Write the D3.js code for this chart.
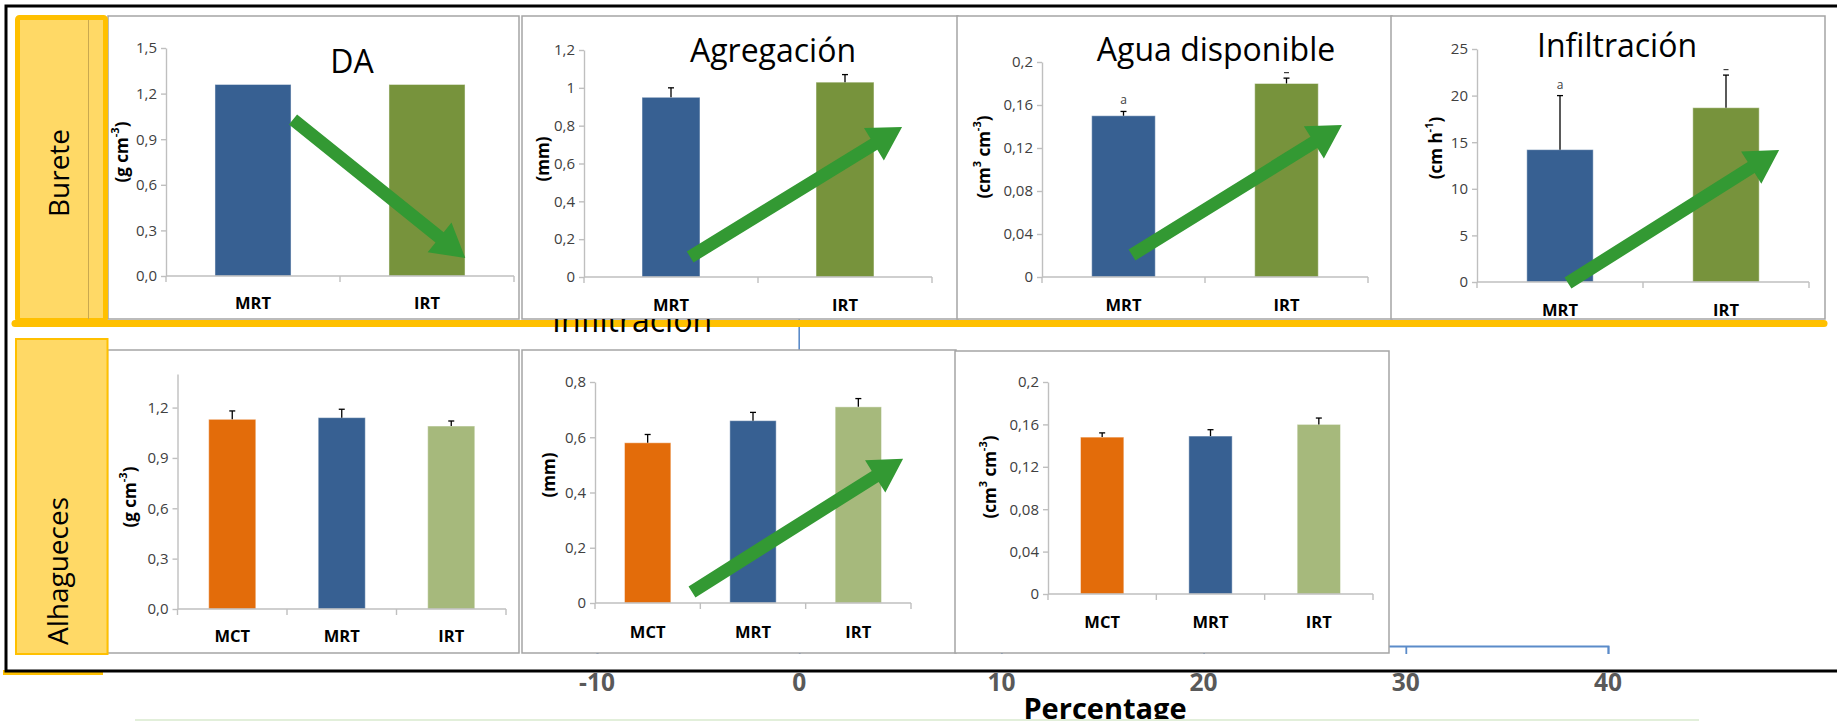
<!DOCTYPE html>
<html>
<head>
<meta charset="utf-8">
<script src="https://cdn.jsdelivr.net/npm/d3@7"></script>
<style>
  html, body { margin: 0; padding: 0; background: #fff; }
  svg { display: block; }
</style>
</head>
<body>
<svg id="chart" width="1837" height="721"></svg>
<script>
// ---------------- data ----------------
const topCategories = ["MRT", "IRT"];
const bottomCategories = ["MCT", "MRT", "IRT"];
const rowLabels = ["Burete", "Alhagueces"];
const panelTitles = ["DA", "Agregación", "Agua disponible", "Infiltración"];

// Burete (top row)
const bureteDA = [1.26, 1.26];
const bureteAgregacion = [0.95, 1.03];
const bureteAgregacionErr = [0.05, 0.04];
const bureteAgua = [0.150, 0.180];
const bureteAguaErr = [0.004, 0.005];
const bureteInfiltracion = [14.2, 18.7];
const bureteInfiltracionErr = [5.8, 3.5];

// Alhagueces (bottom row)
const alhDA = [1.13, 1.14, 1.09];
const alhDAErr = [0.05, 0.05, 0.03];
const alhAgregacion = [0.58, 0.66, 0.71];
const alhAgregacionErr = [0.03, 0.03, 0.03];
const alhAgua = [0.148, 0.149, 0.160];
const alhAguaErr = [0.004, 0.006, 0.006];

// significance letters above the error bars
const bureteAguaLetters = ["a", "-"];
const bureteInfLetters = ["a", "-"];

// axis ticks
const daTopTicks = [0, 0.3, 0.6, 0.9, 1.2, 1.5];
const daBottomTicks = [0, 0.3, 0.6, 0.9, 1.2];
const agrTopTicks = [0, 0.2, 0.4, 0.6, 0.8, 1, 1.2];
const agrBottomTicks = [0, 0.2, 0.4, 0.6, 0.8];
const aguaTicks = [0, 0.04, 0.08, 0.12, 0.16, 0.2];
const infTicks = [0, 5, 10, 15, 20, 25];
const percentTicks = [-10, 0, 10, 20, 30, 40];
const percentLabel = "Percentage";

// unit labels: [text, isSuperscript]
const unitDA = [["(g cm", 0], ["-3", 1], [")", 0]];
const unitMM = [["(mm)", 0]];
const unitAgua = [["(cm", 0], ["3", 1], [" cm", 0], ["-3", 1], [")", 0]];
const unitInf = [["(cm h", 0], ["-1", 1], [")", 0]];

// trend arrows: [fraction along x axis, value on y axis]
const arrowDA = [[0.365, 1.03], [0.86, 0.118]];
const arrowAgrTop = [[0.305, 0.106], [0.914, 0.793]];
const arrowAguaTop = [[0.276, 0.0205], [0.920, 0.1414]];
const arrowInfTop = [[0.274, -0.1], [0.910, 14.16]];
const arrowAgrBottom = [[0.307, 0.04], [0.975, 0.522]];

// ---------------- styles ----------------
const FONT = "'Open Sans', 'DejaVu Sans', sans-serif";
const topColors = ["#376092", "#77933C"];
const bottomColors = ["#E36C0A", "#376092", "#A6B97C"];
const ARROW = "#339933";
const YELLOW = "#FFC000";
const YELLOW_FILL = "#FFD966";
const BLUE_LINE = "#5B8BC9";

const fmtOne = v => v.toFixed(1).replace(".", ",");
const fmtGeneral = v => String(+v.toFixed(3)).replace(".", ",");

const svg = d3.select("#chart");

// ---------------- background percentage axis ----------------
const pct = d3.scaleLinear().domain([-10, 40]).range([597, 1608]);
const pctLayer = svg.append("g");
pctLayer.append("line")
  .attr("x1", pct(0)).attr("x2", pct(0)).attr("y1", 300).attr("y2", 646)
  .attr("stroke", BLUE_LINE).attr("stroke-width", 1.6);
const pctAxis = pctLayer.append("g").attr("transform", "translate(0,646)")
  .call(d3.axisBottom(pct).tickValues(percentTicks).tickSize(8).tickSizeOuter(8).tickPadding(19));
pctAxis.select(".domain").attr("stroke", BLUE_LINE).attr("stroke-width", 1.8);
pctAxis.selectAll(".tick line").attr("stroke", BLUE_LINE).attr("stroke-width", 1.8);
pctAxis.selectAll("text").remove();

// ---------------- panels ----------------
function drawUnit(g, segs, cx, cy, size) {
  const t = g.append("text")
    .attr("transform", `translate(${cx},${cy}) rotate(-90)`)
    .attr("text-anchor", "middle")
    .attr("dominant-baseline", "central")
    .attr("font-family", FONT).attr("font-weight", 700)
    .attr("font-size", size).attr("fill", "#000");
  let raised = false;
  segs.forEach(([s, sup]) => {
    const ts = t.append("tspan").text(s);
    if (sup) {
      ts.attr("font-size", size * 0.65).attr("dy", raised ? 0 : -size * 0.4);
      raised = true;
    } else {
      ts.attr("dy", raised ? size * 0.4 : 0);
      raised = false;
    }
  });
}

function arrowPath(x0, y0, x1, y1, shaft = 13, headL = 33, headW = 38) {
  const dx = x1 - x0, dy = y1 - y0, L = Math.hypot(dx, dy);
  const ux = dx / L, uy = dy / L, nx = -uy, ny = ux;
  const bx = x1 - ux * headL, by = y1 - uy * headL;
  const s = shaft / 2, h = headW / 2;
  const pts = [
    [x0 + nx * s, y0 + ny * s], [bx + nx * s, by + ny * s], [bx + nx * h, by + ny * h],
    [x1, y1],
    [bx - nx * h, by - ny * h], [bx - nx * s, by - ny * s], [x0 - nx * s, y0 - ny * s]
  ];
  return "M" + pts.map(p => p.join(",")).join("L") + "Z";
}

function drawPanel(p) {
  const g = svg.append("g");
  g.append("rect")
    .attr("x", p.box[0]).attr("y", p.box[1])
    .attr("width", p.box[2] - p.box[0]).attr("height", p.box[3] - p.box[1])
    .attr("fill", "#fff").attr("stroke", "#A5A5A5").attr("stroke-width", 1.5);

  const y = d3.scaleLinear().domain(p.domain).range(p.yRange);
  const x = d3.scaleBand().domain(p.cats).range(p.xRange).padding(0);
  const fx = d3.scaleLinear().domain([0, 1]).range(p.xRange);
  const bw = x.bandwidth();

  if (p.title) {
    g.append("text").attr("x", p.titlePos[0]).attr("y", p.titlePos[1])
      .attr("text-anchor", "middle").attr("font-family", FONT)
      .attr("font-size", 32).attr("fill", "#000").text(p.title);
  }

  // y axis
  const ya = g.append("g").attr("transform", `translate(${p.xRange[0]},0)`)
    .call(d3.axisLeft(y).tickValues(p.ticks).tickFormat(p.fmt)
      .tickSize(5).tickSizeOuter(0).tickPadding(4));
  ya.select(".domain").attr("stroke", "#BFBFBF").attr("stroke-width", 1.4);
  ya.selectAll(".tick line").attr("stroke", "#BFBFBF").attr("stroke-width", 1.4);
  ya.selectAll("text").attr("font-family", FONT).attr("font-size", p.tickFont)
    .attr("fill", "#404040");

  // bars
  g.selectAll(".bar").data(p.values).join("rect")
    .attr("x", (d, i) => x(p.cats[i]) + bw * (1 - p.barFrac) / 2)
    .attr("width", bw * p.barFrac)
    .attr("y", d => y(d))
    .attr("height", d => y(0) - y(d))
    .attr("fill", (d, i) => p.colors[i])
    .attr("stroke", "rgba(255,255,255,0.45)").attr("stroke-width", 1);

  // x axis with boundary ticks
  const y0 = y(0);
  g.append("line").attr("x1", p.xRange[0]).attr("x2", p.xRange[1])
    .attr("y1", y0).attr("y2", y0).attr("stroke", "#BFBFBF").attr("stroke-width", 1.4);
  const bounds = [p.xRange[0]].concat(p.cats.map(c => x(c) + bw));
  g.selectAll(".xtick").data(bounds).join("line")
    .attr("x1", d => d).attr("x2", d => d).attr("y1", y0).attr("y2", y0 + 6)
    .attr("stroke", "#BFBFBF").attr("stroke-width", 1.4);
  g.selectAll(".cat").data(p.cats).join("text")
    .attr("x", d => x(d) + bw / 2).attr("y", p.catY)
    .attr("text-anchor", "middle").attr("font-family", FONT)
    .attr("font-weight", 700).attr("font-size", 16.5).attr("fill", "#000")
    .text(d => d);

  // error bars
  if (p.err) {
    p.values.forEach((v, i) => {
      const cx = x(p.cats[i]) + bw / 2;
      const top = y(v + p.err[i]);
      g.append("line").attr("x1", cx).attr("x2", cx).attr("y1", y(v)).attr("y2", top)
        .attr("stroke", "#000").attr("stroke-width", 1.3);
      g.append("line").attr("x1", cx - 3).attr("x2", cx + 3).attr("y1", top).attr("y2", top)
        .attr("stroke", "#000").attr("stroke-width", 1.3);
      if (p.letters) {
        const l = p.letters[i];
        if (l === "-") {
          g.append("line").attr("x1", cx - 2.5).attr("x2", cx + 2.5)
            .attr("y1", top - 5.5).attr("y2", top - 5.5)
            .attr("stroke", "#404040").attr("stroke-width", 1.2);
        } else {
          g.append("text").attr("x", cx).attr("y", top - 7)
            .attr("text-anchor", "middle").attr("font-family", FONT)
            .attr("font-size", 12).attr("fill", "#404040").text(l);
        }
      }
    });
  }

  // unit label
  drawUnit(g, p.unit, p.unitPos[0], p.unitPos[1], 17);

  // trend arrow
  if (p.arrow) {
    const [a, b] = p.arrow;
    g.append("path")
      .attr("d", arrowPath(fx(a[0]), y(a[1]), fx(b[0]), y(b[1])))
      .attr("fill", ARROW);
  }
}

const topPanels = [
  { box: [108, 16, 519, 319], xRange: [166, 514], yRange: [276, 48], domain: [0, 1.5],
    ticks: daTopTicks, fmt: fmtOne, tickFont: 15, cats: topCategories, values: bureteDA,
    colors: topColors, barFrac: 0.437, title: panelTitles[0], titlePos: [352, 73],
    unit: unitDA, unitPos: [121, 152], catY: 309, arrow: arrowDA },
  { box: [522, 16, 958, 319], xRange: [584, 932], yRange: [277, 50], domain: [0, 1.2],
    ticks: agrTopTicks, fmt: fmtGeneral, tickFont: 15, cats: topCategories,
    values: bureteAgregacion, err: bureteAgregacionErr,
    colors: topColors, barFrac: 0.333, title: panelTitles[1], titlePos: [773, 62],
    unit: unitMM, unitPos: [542, 159], catY: 311, arrow: arrowAgrTop },
  { box: [957, 16, 1392, 319], xRange: [1042, 1368], yRange: [277, 62], domain: [0, 0.2],
    ticks: aguaTicks, fmt: fmtGeneral, tickFont: 15, cats: topCategories,
    values: bureteAgua, err: bureteAguaErr, letters: bureteAguaLetters,
    colors: topColors, barFrac: 0.39, title: panelTitles[2], titlePos: [1216, 61],
    unit: unitAgua, unitPos: [983, 157], catY: 311, arrow: arrowAguaTop },
  { box: [1391, 16, 1825, 319], xRange: [1477, 1809], yRange: [282, 49], domain: [0, 25],
    ticks: infTicks, fmt: fmtGeneral, tickFont: 15, cats: topCategories,
    values: bureteInfiltracion, err: bureteInfiltracionErr, letters: bureteInfLetters,
    colors: topColors, barFrac: 0.40, title: panelTitles[3], titlePos: [1617, 57],
    unit: unitInf, unitPos: [1435, 148], catY: 315.5, arrow: arrowInfTop }
];

const bottomPanels = [
  { box: [107.5, 350, 519, 653], xRange: [177.5, 506], yRange: [609, 374], domain: [0, 1.4],
    ticks: daBottomTicks, fmt: fmtOne, tickFont: 15, cats: bottomCategories,
    values: alhDA, err: alhDAErr, colors: bottomColors, barFrac: 0.43,
    unit: unitDA, unitPos: [128.5, 497], catY: 642 },
  { box: [522, 350, 956, 653], xRange: [595, 911], yRange: [603, 382], domain: [0, 0.8],
    ticks: agrBottomTicks, fmt: fmtGeneral, tickFont: 15, cats: bottomCategories,
    values: alhAgregacion, err: alhAgregacionErr, colors: bottomColors, barFrac: 0.44,
    unit: unitMM, unitPos: [548, 475], catY: 637.5, arrow: arrowAgrBottom },
  { box: [955, 351, 1389, 653], xRange: [1048, 1373], yRange: [594, 382], domain: [0, 0.2],
    ticks: aguaTicks, fmt: fmtGeneral, tickFont: 15, cats: bottomCategories,
    values: alhAgua, err: alhAguaErr, colors: bottomColors, barFrac: 0.40,
    unit: unitAgua, unitPos: [989, 477], catY: 628 }
];

// top row
topPanels.forEach(drawPanel);

// Burete row label and yellow underline
svg.append("rect").attr("x", 17.5).attr("y", 17.5).attr("width", 88).attr("height", 303)
  .attr("rx", 2).attr("fill", YELLOW_FILL).attr("stroke", YELLOW).attr("stroke-width", 5);
svg.append("line").attr("x1", 88.5).attr("x2", 88.5).attr("y1", 20).attr("y2", 319)
  .attr("stroke", "#C9A84E").attr("stroke-width", 1);
svg.append("line").attr("x1", 15).attr("x2", 1824).attr("y1", 323.5).attr("y2", 323.5)
  .attr("stroke", YELLOW).attr("stroke-width", 7).attr("stroke-linecap", "round");
svg.append("text").attr("transform", "translate(57.5,173) rotate(-90)")
  .attr("text-anchor", "middle").attr("dominant-baseline", "central")
  .attr("font-family", FONT).attr("font-size", 28).attr("fill", "#000").text(rowLabels[0]);

// leftover title showing below the top row
svg.append("clipPath").attr("id", "ghostClip")
  .append("rect").attr("x", 500).attr("y", 319).attr("width", 300).attr("height", 30);
svg.append("text").attr("x", 632).attr("y", 332).attr("text-anchor", "middle")
  .attr("clip-path", "url(#ghostClip)")
  .attr("font-family", FONT).attr("font-size", 32).attr("fill", "#000").text(panelTitles[3]);

// bottom row
bottomPanels.forEach(drawPanel);

// Alhagueces row label
svg.append("rect").attr("x", 16).attr("y", 339).attr("width", 91.5).attr("height", 315)
  .attr("fill", YELLOW_FILL).attr("stroke", YELLOW).attr("stroke-width", 2);
svg.append("text").attr("transform", "translate(57,571) rotate(-90)")
  .attr("text-anchor", "middle").attr("dominant-baseline", "central")
  .attr("font-family", FONT).attr("font-size", 28).attr("fill", "#000").text(rowLabels[1]);

// outer frame
svg.append("rect").attr("x", 3).attr("y", 670).attr("width", 100).attr("height", 5)
  .attr("fill", YELLOW);
svg.append("path").attr("d", "M1837,6H6V671H1837")
  .attr("fill", "none").attr("stroke", "#000").attr("stroke-width", 3);

// percentage tick labels and title
svg.append("g").selectAll("text").data(percentTicks).join("text")
  .attr("x", d => pct(d)).attr("y", 691)
  .attr("text-anchor", "middle").attr("font-family", FONT).attr("font-weight", 700)
  .attr("font-size", 24.5).attr("fill", "#595959").text(d => d);
svg.append("text").attr("x", 1105).attr("y", 719).attr("text-anchor", "middle")
  .attr("font-family", FONT).attr("font-weight", 700).attr("font-size", 29)
  .attr("fill", "#000").text(percentLabel);

svg.append("line").attr("x1", 135).attr("x2", 1699).attr("y1", 720).attr("y2", 720)
  .attr("stroke", "#E2EFDA").attr("stroke-width", 2);
</script>
</body>
</html>
